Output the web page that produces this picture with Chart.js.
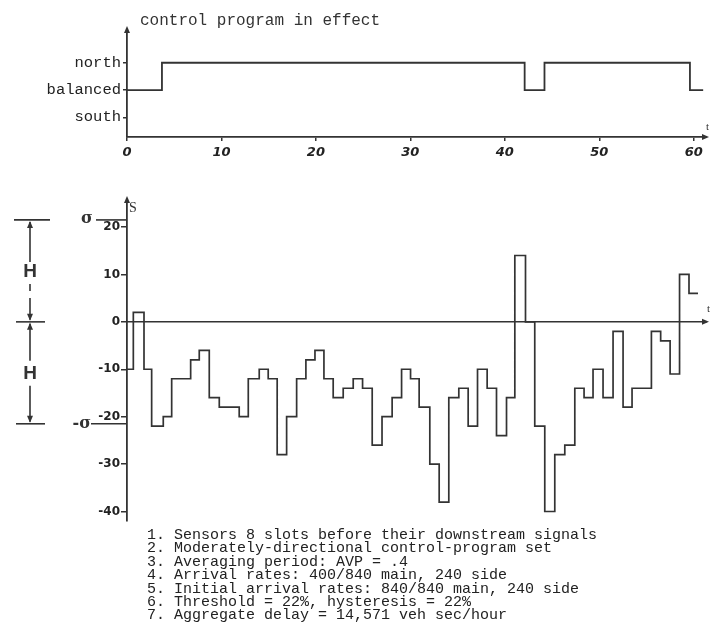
<!DOCTYPE html>
<html>
<head>
<meta charset="utf-8">
<script src="https://cdn.jsdelivr.net/npm/chart.js@4"></script>
<style>
body { margin: 0; background: #fff; width: 711px; height: 635px; position: relative; overflow: hidden; }
canvas { position: absolute; left: 0; }
#top { top: 0; }
#bottom { top: 190px; }
#notes { position: absolute; left: 147px; top: 529px; font: 15px 'Liberation Mono', monospace; line-height: 13.4px; color: #222; white-space: pre; }
</style>
</head>
<body>
<canvas id="top" width="711" height="170"></canvas>
<canvas id="bottom" width="711" height="340"></canvas>
<div id="notes"></div>
<script>
// control program in effect (upper trace)
const programLevels = ['south', 'balanced', 'north'];
const programTimes = [0, 3.7, 42.1, 44.2, 59.6, 61.0];
const programStates = ['balanced', 'north', 'balanced', 'north', 'balanced', 'balanced'];
const timeTicks = [0, 10, 20, 30, 40, 50, 60];

// S (lower trace), each value holds from its time until the next one
const sTimes = [0, 0.67, 1.8, 2.61, 3.84, 4.73, 6.74, 7.65, 8.71, 9.77, 11.88, 12.84, 14.0, 14.95, 15.9, 16.9,
  17.96, 18.94, 19.9, 20.85, 21.83, 22.89, 23.95, 24.94, 25.96, 27.0, 28.07, 29.07, 30.02, 30.93, 32.06, 33.05,
  34.07, 35.13, 36.12, 37.11, 38.13, 39.12, 40.18, 41.06, 42.19, 43.17, 44.23, 45.29, 46.35, 47.41, 48.39, 49.34,
  50.4, 51.46, 52.52, 53.47, 55.52, 56.5, 57.5, 58.5, 59.5, 60.45];
const sValues = [-10, 2, -10, -22, -20, -12, -8, -6, -16, -18, -20, -12, -10, -12, -28, -20,
  -12, -8, -6, -12, -16, -14, -12, -14, -26, -20, -16, -10, -12, -18, -30, -38,
  -16, -14, -22, -10, -14, -24, -16, 14, 0, -22, -40, -28, -26, -14, -16, -10,
  -16, -2, -18, -14, -2, -4, -11, 10, 6, 6];
const sTicks = [20, 10, 0, -10, -20, -30, -40];
const sigma = 21.5;

const notes = [
  '1. Sensors 8 slots before their downstream signals',
  '2. Moderately-directional control-program set',
  '3. Averaging period: AVP = .4',
  '4. Arrival rates: 400/840 main, 240 side',
  '5. Initial arrival rates: 840/840 main, 240 side',
  '6. Threshold = 22%, hysteresis = 22%',
  '7. Aggregate delay = 14,571 veh sec/hour'
];
document.getElementById('notes').textContent = notes.join('\n');

const ink = '#333';

function seg(ctx, x1, y1, x2, y2) {
  ctx.beginPath(); ctx.moveTo(x1, y1); ctx.lineTo(x2, y2); ctx.stroke();
}
function arrowHead(ctx, x, y, dir) {
  const d = { up: [0, -1], down: [0, 1], right: [1, 0] }[dir];
  const bx = x - d[0] * 7, by = y - d[1] * 7;
  ctx.beginPath();
  ctx.moveTo(x, y);
  ctx.lineTo(bx - d[1] * 3, by + d[0] * 3);
  ctx.lineTo(bx + d[1] * 3, by - d[0] * 3);
  ctx.closePath();
  ctx.fill();
}

const topDecor = {
  id: 'topDecor',
  afterDraw(chart) {
    const { ctx, chartArea } = chart;
    ctx.save();
    ctx.fillStyle = ink;
    ctx.strokeStyle = ink;
    arrowHead(ctx, chartArea.left, chartArea.top - 4, 'up');
    arrowHead(ctx, chartArea.right + 3, chartArea.bottom, 'right');
    ctx.font = '16px "Liberation Mono"';
    ctx.textBaseline = 'middle';
    ctx.fillText('control program in effect', 140, 21);
    ctx.font = '11px "Liberation Serif"';
    ctx.fillText('t', 706, 127);
    ctx.restore();
  }
};

const bottomDecor = {
  id: 'bottomDecor',
  afterDraw(chart) {
    const { ctx, chartArea, scales: { y } } = chart;
    const ax = chartArea.left;
    const yT = y.getPixelForValue(sigma), y0 = y.getPixelForValue(0), yB = y.getPixelForValue(-sigma);
    ctx.save();
    ctx.fillStyle = ink;
    ctx.strokeStyle = ink;
    ctx.lineWidth = 1.6;
    arrowHead(ctx, ax, chartArea.top - 4, 'up');
    arrowHead(ctx, chartArea.right + 3, y0, 'right');
    ctx.textBaseline = 'middle';
    ctx.font = '14px "Liberation Serif"';
    ctx.fillText('S', ax + 2, chartArea.top + 8);
    ctx.font = '11px "Liberation Serif"';
    ctx.fillText('t', 707, y0 - 13);

    // sigma levels
    seg(ctx, 96, yT, ax, yT);
    seg(ctx, 91, yB, ax, yB);
    ctx.font = 'bold 16px "DejaVu Serif"';
    ctx.textAlign = 'center';
    ctx.fillText('σ', 87, yT - 1);
    ctx.textAlign = 'right';
    ctx.fillText('-σ', 91, yB);

    // H bracket
    const bx = 30;
    seg(ctx, 14, yT, 50, yT);
    seg(ctx, 16, y0, 45, y0);
    seg(ctx, 16, yB, 45, yB);
    const m1 = (yT + y0) / 2, m2 = (y0 + yB) / 2;
    seg(ctx, bx, yT + 2, bx, m1 - 9);
    seg(ctx, bx, m1 + 13, bx, m1 + 20);
    seg(ctx, bx, m1 + 27, bx, y0 - 2);
    seg(ctx, bx, y0 + 2, bx, m2 - 12);
    seg(ctx, bx, m2 + 13, bx, yB - 2);
    arrowHead(ctx, bx, yT + 1, 'up');
    arrowHead(ctx, bx, y0 - 1, 'down');
    arrowHead(ctx, bx, y0 + 1, 'up');
    arrowHead(ctx, bx, yB - 1, 'down');
    ctx.textAlign = 'center';
    ctx.font = 'bold 19px "Liberation Sans"';
    ctx.fillText('H', bx, m1 + 1);
    ctx.fillText('H', bx, m2 + 1);
    ctx.restore();
  }
};

const common = {
  responsive: false,
  animation: false,
  events: [],
  plugins: { legend: { display: false }, tooltip: { enabled: false } }
};

new Chart(document.getElementById('top'), {
  type: 'line',
  data: {
    datasets: [{
      data: programTimes.map((t, i) => ({ x: t, y: programLevels.indexOf(programStates[i]) })),
      stepped: 'before',
      borderColor: ink,
      borderWidth: 1.8,
      pointRadius: 0,
      fill: false
    }]
  },
  options: {
    ...common,
    layout: { padding: { top: 30, right: 5, left: 0, bottom: 0 } },
    scales: {
      x: {
        type: 'linear', min: 0, max: 61.3,
        afterBuildTicks: a => { a.ticks = timeTicks.map(v => ({ value: v })); },
        afterFit: a => { a.height = 33; },
        grid: { drawOnChartArea: false, tickLength: 4, color: ink, lineWidth: 1.5 },
        border: { color: ink, width: 1.8 },
        ticks: { color: '#222', padding: 4, maxRotation: 0, font: { family: 'DejaVu Sans', size: 13, weight: 'bold', style: 'italic' } }
      },
      y: {
        min: -0.72, max: 3.2,
        afterBuildTicks: a => { a.ticks = programLevels.map((l, i) => ({ value: i })); },
        afterFit: a => { a.width = 127; },
        grid: { drawOnChartArea: false, tickLength: 4, color: ink, lineWidth: 1.5 },
        border: { color: ink, width: 1.8 },
        ticks: { color: '#222', padding: 2, callback: v => programLevels[v], font: { family: 'Liberation Mono', size: 15.5 } }
      }
    }
  },
  plugins: [topDecor]
});

new Chart(document.getElementById('bottom'), {
  type: 'line',
  data: {
    datasets: [{
      data: sTimes.map((t, i) => ({ x: t, y: sValues[i] })),
      stepped: 'before',
      borderColor: ink,
      borderWidth: 1.7,
      pointRadius: 0,
      fill: false
    }]
  },
  options: {
    ...common,
    layout: { padding: { top: 10, right: 5, left: 0, bottom: 9 } },
    scales: {
      x: {
        type: 'linear', min: 0, max: 61.3,
        position: { y: 0 },
        afterFit: a => { a.height = 0; },
        grid: { display: false },
        ticks: { display: false },
        border: { color: ink, width: 1.6 }
      },
      y: {
        min: -42, max: 25.7,
        afterBuildTicks: a => { a.ticks = sTicks.map(v => ({ value: v })); },
        afterFit: a => { a.width = 127; },
        grid: { drawOnChartArea: false, tickLength: 6, color: ink, lineWidth: 1.5 },
        border: { color: ink, width: 1.8 },
        ticks: { color: '#222', padding: 1, font: { family: 'DejaVu Sans', size: 12, weight: 'bold' } }
      }
    }
  },
  plugins: [bottomDecor]
});
</script>
</body>
</html>
